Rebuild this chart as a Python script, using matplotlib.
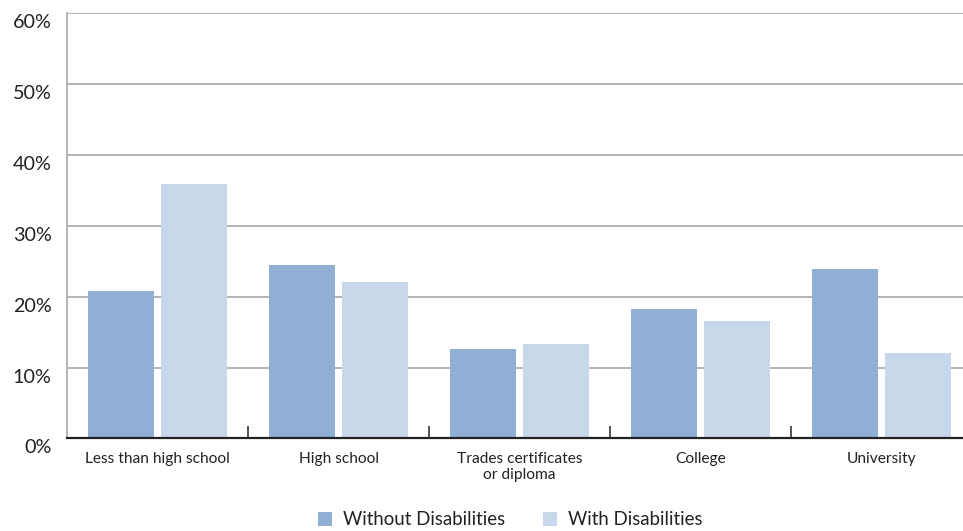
import matplotlib.pyplot as plt
import matplotlib.transforms as mtransforms
import numpy as np

plt.rcParams['font.family'] = ['Lato', 'DejaVu Sans']

# Share of people by highest education level (%)
categories = ['Less than high school', 'High school', 'Trades certificates\nor diploma',
              'College', 'University']
without_dis = [20.8, 24.4, 12.6, 18.3, 23.9]
with_dis = [35.9, 22.1, 13.3, 16.6, 12.1]
yticks = [0, 10, 20, 30, 40, 50, 60]

dark = '#8FAFD5'
light = '#C8D7EA'

fig = plt.figure(figsize=(9.63, 5.31), dpi=100)
ax = fig.add_axes([0.0696, 0.1742, 0.9398, 0.8019])

x = np.arange(len(categories))
w = 0.365
ax.bar(x - 0.2, without_dis, w, color=dark, label='Without Disabilities', zorder=3)
ax.bar(x + 0.2, with_dis, w, color=light, label='With Disabilities', zorder=3)

ax.set_xlim(-0.5, 4.5)
ax.set_ylim(0, 60)

# horizontal grid
ax.set_yticks(yticks)
ax.set_yticklabels([f'{v}%' for v in yticks], fontsize=14.2, color='#222222')
ax.yaxis.grid(True, color='#B4B4B4', linewidth=1.4, zorder=0)
ax.tick_params(axis='y', length=0, pad=14)
shift = mtransforms.ScaledTranslation(0.04, -8 / 100, fig.dpi_scale_trans)
for lab in ax.get_yticklabels():
    lab.set_transform(lab.get_transform() + shift)

# category labels and separator ticks
ax.set_xticks(x)
ax.set_xticklabels(categories, fontsize=11.2, color='#222222', linespacing=1.15, va='top')
ax.set_xticks(x[:-1] + 0.5, minor=True)
ax.tick_params(axis='x', which='major', length=0, pad=10)
ax.tick_params(axis='x', which='minor', direction='in', length=9, width=1.2, color='#333333')

for s in ['top', 'right']:
    ax.spines[s].set_visible(False)
ax.spines['left'].set_color('#A8A8A8')
ax.spines['left'].set_linewidth(1.2)
ax.spines['bottom'].set_color('#222222')
ax.spines['bottom'].set_linewidth(1.6)
ax.spines['bottom'].set_zorder(4)

fig.legend(loc='center', bbox_to_anchor=(0.53, 0.021), ncol=2, frameon=False,
           fontsize=13.4, handlelength=0.75, handleheight=0.75, handletextpad=0.6,
           columnspacing=2.0, labelcolor='#222222')

plt.savefig('out.png', dpi=100)
